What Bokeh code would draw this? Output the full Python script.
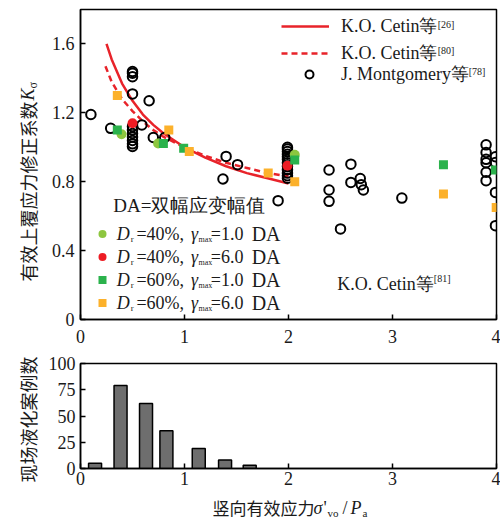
import math
from bokeh.plotting import figure
from bokeh.models import Range1d, FixedTicker, Label, Legend, LegendItem
from bokeh.layouts import column, row
from bokeh.embed import file_html
from bokeh.resources import INLINE

# ---------------- data ----------------
# Montgomery et al. points (open circles)
mont_x = [0.10, 0.29,
          0.50, 0.50, 0.50, 0.50, 0.50, 0.50, 0.50, 0.50, 0.50, 0.50, 0.50,
          0.59, 0.66, 0.70, 0.81,
          1.37, 1.40, 1.51, 1.90,
          1.99, 1.99, 1.99, 1.99, 1.99, 1.99, 1.99, 1.99, 1.99, 1.99, 1.99, 1.99,
          2.39, 2.39, 2.39, 2.50, 2.60, 2.60, 2.69, 2.70, 2.72, 3.09,
          3.90, 3.90, 3.90, 3.90, 3.90, 3.90,
          3.99, 3.99, 3.99, 3.99]
mont_y = [1.19, 1.11,
          1.44, 1.43, 1.41, 1.31, 1.12, 1.10, 1.08, 1.06, 1.04, 1.02, 1.005,
          1.13, 1.27, 1.057, 1.057,
          0.816, 0.947, 0.899, 0.69,
          1.00, 0.99, 0.975, 0.96, 0.945, 0.93, 0.91, 0.89, 0.87, 0.85, 0.835, 0.82,
          0.868, 0.752, 0.686, 0.526, 0.902, 0.796, 0.819, 0.783, 0.752, 0.705,
          1.014, 0.97, 0.93, 0.91, 0.855, 0.806,
          0.945, 0.912, 0.738, 0.545]

# Dr = 40 %, gamma_max = 1.0 DA (green circles)
g40_x = [0.395, 0.746, 2.06]
g40_y = [1.076, 1.022, 0.957]
# Dr = 40 %, gamma_max = 6.0 DA (red circles)
r40_x = [0.50, 1.99]
r40_y = [1.14, 0.893]
# Dr = 60 %, gamma_max = 1.0 DA (green squares)
g60_x = [0.354, 0.797, 0.992, 2.06, 3.49, 3.99]
g60_y = [1.10, 1.022, 0.995, 0.926, 0.899, 0.868]
# Dr = 60 %, gamma_max = 6.0 DA (orange squares)
o60_x = [0.354, 0.849, 1.046, 1.805, 2.06, 3.49, 3.997]
o60_y = [1.30, 1.10, 0.976, 0.85, 0.80, 0.729, 0.651]

# K.O. Cetin [26] (solid) and K.O. Cetin [80] (dashed) curves
cet26_x = [0.25, 0.30, 0.40, 0.50, 0.60, 0.70, 0.80, 1.00, 1.20, 1.40, 1.60, 1.80, 2.00]
cet26_y = [1.60, 1.51, 1.37, 1.27, 1.19, 1.13, 1.08, 1.00, 0.94, 0.89, 0.85, 0.82, 0.79]
cet80_x = [0.24, 0.30, 0.40, 0.50, 0.60, 0.70, 0.80, 1.00, 1.20, 1.40, 1.60, 1.80, 2.00]
cet80_y = [1.47, 1.38, 1.28, 1.21, 1.15, 1.10, 1.06, 1.00, 0.95, 0.91, 0.88, 0.85, 0.83]

# histogram of field liquefaction cases
bar_x = [0.14, 0.385, 0.63, 0.826, 1.137, 1.39, 1.627]
bar_n = [5, 79, 62, 36, 19, 8, 3]

top_yticks = [0, 0.4, 0.8, 1.2, 1.6]
top_ylabels = ["0", "0.4", "0.8", "1.2", "1.6"]
xticks = [0, 1, 2, 3, 4]
bot_yticks = [0, 25, 50, 75, 100]

# ---------------- style ----------------
SERIF = "Liberation Serif"
CJK = "Noto Sans CJK SC"
TXT = "#1a1a1a"
RED = "#e8232a"
LW = 45  # width of the strip holding the rotated y labels


def style_fig(f):
    f.xgrid.visible = False
    f.ygrid.visible = False
    f.outline_line_color = "black"
    f.outline_line_width = 1.5
    f.outline_line_alpha = 1
    for ax in (f.xaxis[0], f.yaxis[0]):
        ax.axis_line_color = "black"
        ax.axis_line_width = 1.5
        ax.major_tick_in = 5
        ax.major_tick_out = 0
        ax.major_tick_line_color = "black"
        ax.major_tick_line_width = 1.5
        ax.minor_tick_line_color = None
        ax.major_label_text_font = SERIF
        ax.major_label_text_font_size = "18px"
        ax.major_label_text_color = TXT


def blank_fig(w, h, x0, x1, y_top, y_bot):
    """Axis-less figure whose data units are page pixels (y downwards)."""
    f = figure(width=w, height=h, output_backend="svg", toolbar_location=None,
               x_range=Range1d(x0, x1), y_range=Range1d(y_bot, y_top),
               min_border=0, x_axis_location=None, y_axis_location=None)
    f.xgrid.visible = False
    f.ygrid.visible = False
    f.outline_line_color = None
    return f


# page-pixel -> data helpers for annotation placement (top plot)
def TX(px):
    return (px - 78) / 104.5


def TY(py):
    return (319 - py) / 172.5


def lab(f, x, y, text, size=18, style="normal", angle=0, align="left",
        baseline="middle", yo=0, font=SERIF):
    f.add_layout(Label(x=x, y=y, text=text, y_offset=yo,
                       text_font=font, text_font_size=f"{size}px",
                       text_font_style=style, angle=angle,
                       text_align=align, text_baseline=baseline,
                       text_color=TXT))


# ---------------- top figure ----------------
p = figure(width=500 - LW, height=348, output_backend="svg", toolbar_location=None,
           x_range=Range1d(0, 4), y_range=Range1d(0, 1.8),
           min_border_left=78 - LW, min_border_right=4, min_border_top=9,
           min_border_bottom=29)
style_fig(p)
p.xaxis.ticker = FixedTicker(ticks=xticks)
p.yaxis.ticker = FixedTicker(ticks=top_yticks)
p.yaxis.major_label_overrides = {t: s for t, s in zip(top_yticks, top_ylabels)}
p.xaxis.major_label_standoff = 10
p.yaxis.major_label_standoff = 6

l26 = p.line(cet26_x, cet26_y, line_color=RED, line_width=2.5)
l80 = p.line(cet80_x, cet80_y, line_color=RED, line_width=2.5, line_dash="6 4")
mont = p.scatter(mont_x, mont_y, marker="circle", size=9.5, fill_alpha=0,
                 line_color="black", line_width=2)
sg40 = p.scatter(g40_x, g40_y, marker="circle", size=10, fill_color="#8dc63f",
                 line_color=None)
sr40 = p.scatter(r40_x, r40_y, marker="circle", size=10, fill_color="#ed1c24",
                 line_color=None)
sg60 = p.scatter(g60_x, g60_y, marker="square", size=9, fill_color="#2bb24c",
                 line_color=None)
so60 = p.scatter(o60_x, o60_y, marker="square", size=9, fill_color="#fcb12b",
                 line_color=None)


def mk_legend(items, loc, gw, gh, standoff, fsize="18px"):
    lg = Legend(items=items, location=loc, glyph_width=gw, glyph_height=gh,
                label_height=gh, label_width=0, spacing=0, padding=0, margin=0,
                label_standoff=standoff, border_line_color=None,
                background_fill_alpha=0, label_text_font=SERIF,
                label_text_font_size=fsize, label_text_color=TXT)
    p.add_layout(lg)


mk_legend([LegendItem(label="K.O. Cetin等", renderers=[l26])], (201, 281), 48, 20, 12)
mk_legend([LegendItem(label="K.O. Cetin等", renderers=[l80])], (201, 254), 48, 20, 12)
mk_legend([LegendItem(label="J. Montgomery等", renderers=[mont])], (205, 233), 48, 20, 8)
lab(p, TX(437), TY(23.5), "[26]", size=10)
lab(p, TX(437), TY(50), "[80]", size=10)
lab(p, TX(468), TY(71), "[78]", size=10)

mk_legend([LegendItem(label=" ", renderers=[sg40]),
           LegendItem(label=" ", renderers=[sr40]),
           LegendItem(label=" ", renderers=[sg60]),
           LegendItem(label=" ", renderers=[so60])], (12, 5), 20, 23, 0, "1px")

lab(p, TX(111), TY(205), "DA=双幅应变幅值", size=19)
rows = [(233.7, "40%,", "=1.0"), (256.7, "40%,", "=6.0"),
        (279.7, "60%,", "=1.0"), (302.7, "60%,", "=6.0")]
for ry, dr, gm in rows:
    lab(p, TX(114.3), TY(ry), "D", style="italic")
    lab(p, TX(128.5), TY(ry), "r", size=9, yo=-5)
    lab(p, TX(134.3), TY(ry), "=")
    lab(p, TX(144.3), TY(ry), dr)
    lab(p, TX(189), TY(ry), "γ", style="italic")
    lab(p, TX(196.5), TY(ry), "max", size=8, yo=-5)
    lab(p, TX(209), TY(ry), gm)
    lab(p, TX(250), TY(ry), "DA", size=20)

lab(p, TX(336), TY(283), "K.O. Cetin等")
lab(p, TX(433), TY(278), "[81]", size=10)

# ---------------- bottom figure ----------------
q = figure(width=500 - LW, height=142, output_backend="svg", toolbar_location=None,
           x_range=Range1d(0, 4), y_range=Range1d(0, 100),
           min_border_left=78 - LW, min_border_right=4, min_border_top=15,
           min_border_bottom=22)
style_fig(q)
q.xaxis.ticker = FixedTicker(ticks=xticks)
q.yaxis.ticker = FixedTicker(ticks=bot_yticks)
q.xaxis.major_label_standoff = 3
q.yaxis.major_label_standoff = 5
q.vbar(x=bar_x, top=bar_n, width=0.125, bottom=0, fill_color="#6e6e6e",
       line_color="black", line_width=1.5)

# ---------------- label strips (coordinates = page pixels) ----------------
ys = blank_fig(LW, 490, 0, LW, 0, 490)
lab(ys, 27, 281, "有效上覆应力修正系数", angle=math.pi / 2, font=CJK)
lab(ys, 27, 100, "K", style="italic", angle=math.pi / 2)
lab(ys, 32, 88, "σ", size=12, angle=math.pi / 2)
lab(ys, 27, 482, "现场液化案例数", angle=math.pi / 2, font=CJK)

xb = blank_fig(500, 35, 0, 500, 490, 525)
lab(xb, 212, 507, "竖向有效应力", size=17, font=CJK)
lab(xb, 313, 507, "σ", style="italic")
lab(xb, 323, 507, "'")
lab(xb, 327, 507, "vo", size=11, yo=-5)
lab(xb, 342, 507, "/")
lab(xb, 350, 507, "P", style="italic")
lab(xb, 362, 507, "a", size=11, yo=-5)

layout = column(row(ys, column(p, q, spacing=0), spacing=0), xb, spacing=0)
open("out.html", "w").write(file_html(layout, INLINE))
